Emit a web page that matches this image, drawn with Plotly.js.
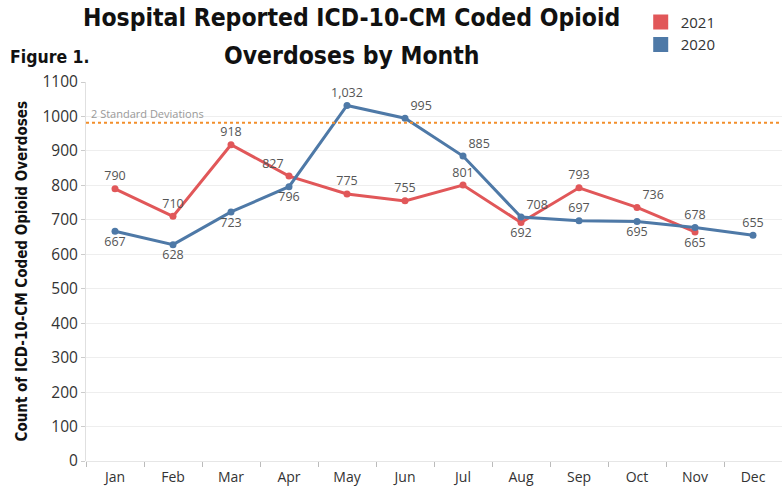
<!DOCTYPE html>
<html><head><meta charset="utf-8">
<script src="https://cdn.plot.ly/plotly-3.0.1.min.js"></script>
<style>html,body{margin:0;padding:0;background:#fff}#c{width:782px;height:489px}</style>
</head><body><div id="c"></div>
<script>
const months = ["Jan","Feb","Mar","Apr","May","Jun","Jul","Aug","Sep","Oct","Nov","Dec"];
const y2021 = [790,710,918,827,775,755,801,692,793,736,665];
const y2020 = [667,628,723,796,1032,995,885,708,697,695,678,655];
const pos2021 = ["top center","top center","top center","top left","top center","top center","top center","bottom center","top center","top right","bottom center"];
const pos2020 = ["bottom center","bottom center","bottom center","bottom center","top center","top right","top right","top right","top center","bottom center","top center","top center"];
const sdValue = 982;
const yTicks = [0,100,200,300,400,500,600,700,800,900,1000,1100];
const red = "#e15759", blue = "#4e79a7";
const lblFont = {family:"Open Sans, Noto Sans, sans-serif", size:12.5, color:"#555"};
const headFont = "Liberation Sans Narrow, DejaVu Sans Condensed, sans-serif";

const traces = [
  {x: months.slice(0, y2021.length), y: y2021, type:"scatter", mode:"lines+markers+text",
   line:{color:red,width:3}, marker:{color:red,size:7}, text:y2021, texttemplate:"%{y:,}",
   textposition:pos2021, textfont:lblFont, showlegend:false, cliponaxis:false},
  {x: months, y: y2020, type:"scatter", mode:"lines+markers+text",
   line:{color:blue,width:3}, marker:{color:blue,size:7}, text:y2020, texttemplate:"%{y:,}",
   textposition:pos2020, textfont:lblFont, showlegend:false, cliponaxis:false},
  {x:[null], y:[null], type:"scatter", mode:"markers", name:"2021", marker:{symbol:"square",size:15,color:red}},
  {x:[null], y:[null], type:"scatter", mode:"markers", name:"2020", marker:{symbol:"square",size:15,color:blue}}
];

const layout = {
  width:782, height:489,
  margin:{l:86, r:0, t:82, b:28},
  paper_bgcolor:"#fff", plot_bgcolor:"#fff",
  showlegend:true,
  legend:{x:0.797, xref:"paper", y:0.988, yref:"container", xanchor:"left", yanchor:"top",
          font:{family:"Open Sans, Noto Sans, sans-serif", size:15, color:"#333"},
          itemwidth:20, tracegroupgap:0, bgcolor:"rgba(0,0,0,0)"},
  xaxis:{type:"category", categoryarray:months, range:[-0.5,11.5], tickson:"boundaries",
         ticks:"outside", ticklen:5, tickcolor:"#bbb", showgrid:false, showline:false, zeroline:false,
         ticklabelstandoff:6,
         tickfont:{family:"Open Sans, Noto Sans, sans-serif", size:14, color:"#333"}, fixedrange:true},
  yaxis:{range:[0,1100], tickvals:yTicks, ticktext:yTicks.map(String), showgrid:true, gridcolor:"#eeeeee",
         gridwidth:1, zeroline:true, zerolinecolor:"#e6e6e6", showline:true, linecolor:"#e0e0e0",
         ticks:"outside", ticklen:4, tickcolor:"#ccc",
         tickfont:{family:"Open Sans, Noto Sans, sans-serif", size:15.5, color:"#333"}, fixedrange:true},
  shapes:[{type:"line", xref:"paper", x0:0, x1:1, yref:"y", y0:sdValue, y1:sdValue,
           line:{color:"#f28e2b", width:2, dash:"dot"}}],
  annotations:[
    {text:"<b>Hospital Reported ICD-10-CM Coded Opioid</b>", xref:"paper", x:0.382, xanchor:"center",
     yref:"paper", y:1.169, yanchor:"middle", showarrow:false,
     font:{family:headFont, size:24.5, color:"#111"}},
    {text:"<b>Overdoses by Month</b>", xref:"paper", x:0.382, xanchor:"center",
     yref:"paper", y:1.071, yanchor:"middle", showarrow:false,
     font:{family:headFont, size:24.5, color:"#111"}},
    {text:"<b>Figure 1.</b>", xref:"paper", x:-0.112, xanchor:"left",
     yref:"paper", y:1.066, yanchor:"middle", showarrow:false,
     font:{family:headFont, size:17.5, color:"#111"}},
    {text:"<b>Count of ICD-10-CM Coded Opioid Overdoses</b>", textangle:-90, xref:"paper", x:-0.092, xanchor:"center",
     yref:"paper", y:0.5, yanchor:"middle", showarrow:false,
     font:{family:headFont, size:15, color:"#111"}},
    {text:"2 Standard Deviations", xref:"paper", x:0.005, xanchor:"left", yref:"y", y:sdValue, yanchor:"bottom",
     showarrow:false, font:{family:"Open Sans, Noto Sans, sans-serif", size:11, color:"#999"}}
  ]
};
Plotly.newPlot("c", traces, layout, {displayModeBar:false, staticPlot:true});
</script></body></html>
